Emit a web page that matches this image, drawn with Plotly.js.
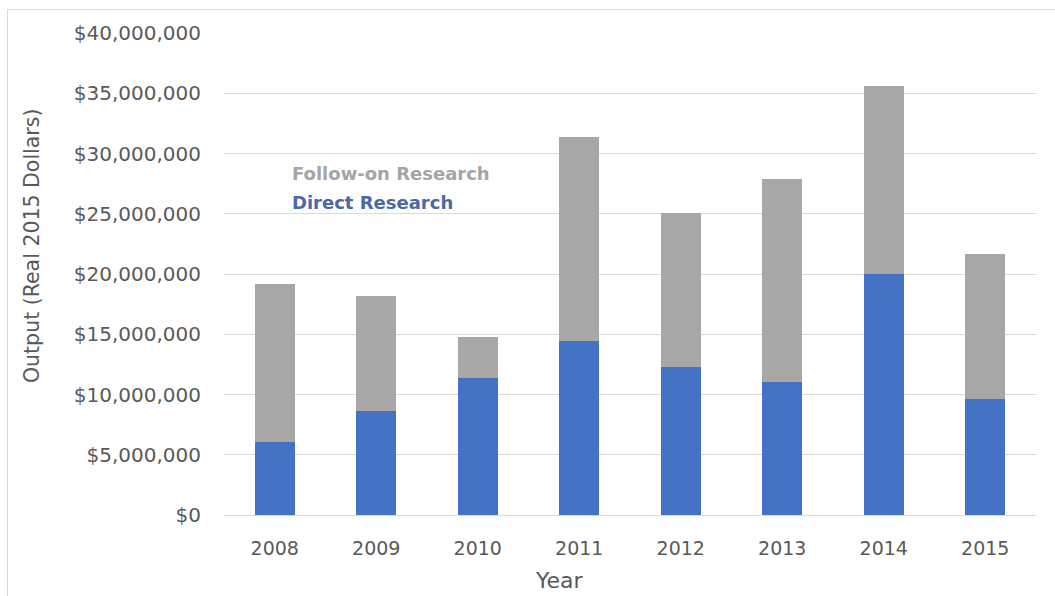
<!DOCTYPE html>
<html>
<head>
<meta charset="utf-8">
<script src="https://cdn.plot.ly/plotly-3.0.1.min.js"></script>
<style>
  html, body { margin: 0; padding: 0; background: #ffffff; }
  #wrap { position: relative; width: 1055px; height: 596px; overflow: hidden; }
  #chart { width: 1055px; height: 596px; }
  #frame { position: absolute; left: 7px; top: 9px; right: -2px; bottom: -2px;
           border-top: 1px solid #d9d9d9; border-left: 1px solid #d9d9d9; pointer-events: none; }
</style>
</head>
<body>
<div id="wrap">
  <div id="chart"></div>
  <div id="frame"></div>
</div>
<script>
const years = ["2008", "2009", "2010", "2011", "2012", "2013", "2014", "2015"];
const directResearch = [6080000, 8620000, 11330000, 14430000, 12300000, 11030000, 20040000, 9590000];
const followOnResearch = [13070000, 9570000, 3460000, 16940000, 12770000, 16860000, 15590000, 12110000];
const seriesNames = ["Direct Research", "Follow-on Research"];
const yAxisTitle = "Output (Real 2015 Dollars)";
const xAxisTitle = "Year";

const font = "'DejaVu Sans', 'Open Sans', sans-serif";
const textColor = "#595959";

const traces = [
  { type: "bar", name: seriesNames[0], x: years, y: directResearch,
    marker: { color: "#4472C4" }, hoverinfo: "x+y" },
  { type: "bar", name: seriesNames[1], x: years, y: followOnResearch,
    marker: { color: "#A9A6A6" }, hoverinfo: "x+y" }
];

const layout = {
  width: 1055, height: 596,
  margin: { l: 224, r: 19, t: 33, b: 81 },
  paper_bgcolor: "rgba(0,0,0,0)",
  plot_bgcolor: "#ffffff",
  barmode: "stack",
  bargap: 0.605,
  showlegend: false,
  separators: ".,",
  font: { family: font, color: textColor, size: 19 },
  xaxis: {
    type: "category",
    tickfont: { family: font, size: 19, color: textColor },
    showgrid: false, showline: false, zeroline: false,
    ticks: "", ticklabelstandoff: 20
  },
  yaxis: {
    range: [0, 40000000],
    dtick: 5000000,
    tickprefix: "$",
    tickformat: ",d",
    tickfont: { family: font, size: 20, color: textColor },
    gridcolor: "#d9d9d9", gridwidth: 1,
    zeroline: true, zerolinecolor: "#d9d9d9", zerolinewidth: 1,
    showline: false, ticks: "", ticklabelstandoff: 22
  },
  annotations: [
    { text: seriesNames[1], xref: "paper", yref: "paper", x: 0.0813, y: 0.7095,
      xanchor: "left", yanchor: "middle", showarrow: false,
      font: { family: font, size: 18, color: "#A5A5A5", weight: 700 } },
    { text: seriesNames[0], xref: "paper", yref: "paper", x: 0.0813, y: 0.649,
      xanchor: "left", yanchor: "middle", showarrow: false,
      font: { family: font, size: 18, color: "#4A68A6", weight: 700 } },
    { text: yAxisTitle, xref: "paper", yref: "paper", x: -0.2365, y: 0.56,
      xanchor: "center", yanchor: "middle", textangle: -90, showarrow: false,
      font: { family: font, size: 20.5, color: textColor } },
    { text: xAxisTitle, xref: "paper", yref: "paper", x: 0.4135, y: -0.135,
      xanchor: "center", yanchor: "middle", showarrow: false,
      font: { family: font, size: 22, color: textColor } }
  ]
};

Plotly.newPlot("chart", traces, layout, { displayModeBar: false, staticPlot: true });
</script>
</body>
</html>
